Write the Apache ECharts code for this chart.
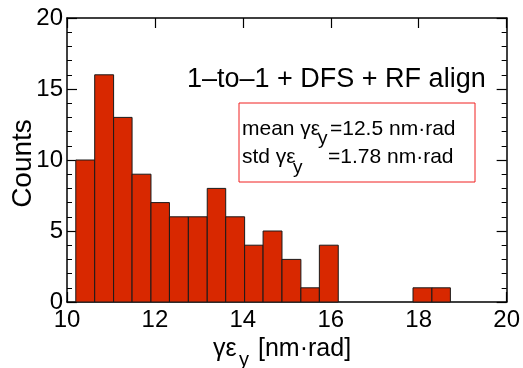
<!DOCTYPE html>
<html>
<head>
<meta charset="utf-8">
<script src="https://cdn.jsdelivr.net/npm/echarts@6/dist/echarts.min.js"></script>
<style>html,body{margin:0;padding:0;background:#fff}#c{width:523px;height:368px}</style>
</head>
<body>
<div id="c"></div>
<script>
// Histogram bin edges (nm·rad)
var binEdges = [10.20, 10.63, 11.06, 11.48, 11.91, 12.33, 12.76, 13.19, 13.61, 14.04,
                14.46, 14.89, 15.32, 15.74, 16.17, 16.59, 17.02, 17.44, 17.87, 18.30, 18.72];
// Counts per bin
var counts = [10, 16, 13, 9, 7, 6, 6, 8, 6, 4, 5, 3, 1, 4, 0, 0, 0, 0, 1, 1];
var xTicks = [10, 12, 14, 16, 18, 20];
var yTicks = [0, 5, 10, 15, 20];
var titleText = '1\u2013to\u20131 + DFS + RF align';
var meanLabel = 'mean \u03b3\u03b5';
var stdLabel = 'std \u03b3\u03b5';
var subY = 'y';
var meanText = '=12.5 nm\u00b7rad';
var stdText = '=1.78 nm\u00b7rad';
var xNameMain = '\u03b3\u03b5';
var xNameUnit = '[nm\u00b7rad]';
var yName = 'Counts';

var FONT = 'Liberation Sans, Arial, Helvetica, sans-serif';
var data = counts.map(function (c, i) { return [binEdges[i], binEdges[i + 1], c]; });

var chart = echarts.init(document.getElementById('c'), null, {renderer: 'canvas'});

var axisCommon = {
  type: 'value',
  axisLine: {show: true, onZero: false, lineStyle: {color: '#000', width: 1.5}},
  axisTick: {show: true, inside: true, length: 10, lineStyle: {color: '#000', width: 1.2}},
  splitLine: {show: false}
};

function txt(x, y, s, fs, z) {
  return {
    type: 'text', x: x, y: y, z: z || 11,
    style: {text: s, fontSize: fs, fontFamily: FONT, fill: '#000', verticalAlign: 'middle'}
  };
}

chart.setOption({
  animation: false,
  backgroundColor: '#fff',
  grid: {left: 67, right: 16, top: 18, bottom: 66, containLabel: false},
  xAxis: [
    Object.assign({}, axisCommon, {
      position: 'bottom', min: xTicks[0], max: xTicks[xTicks.length - 1], interval: 2,
      axisLabel: {show: true, color: '#000', fontSize: 24, fontFamily: FONT, margin: 6}
    }),
    Object.assign({}, axisCommon, {
      position: 'top', min: xTicks[0], max: xTicks[xTicks.length - 1], interval: 2,
      axisLabel: {show: false}
    })
  ],
  yAxis: [
    Object.assign({}, axisCommon, {
      position: 'left', min: yTicks[0], max: yTicks[yTicks.length - 1], interval: 5,
      axisLabel: {show: true, color: '#000', fontSize: 24, fontFamily: FONT, margin: 4},
      minorTick: {show: true, splitNumber: 5, length: 5, lineStyle: {color: '#000', width: 1}}
    }),
    Object.assign({}, axisCommon, {
      position: 'right', min: yTicks[0], max: yTicks[yTicks.length - 1], interval: 5,
      axisLabel: {show: false},
      minorTick: {show: true, splitNumber: 5, length: 5, lineStyle: {color: '#000', width: 1}}
    })
  ],
  series: [{
    type: 'custom',
    xAxisIndex: 0, yAxisIndex: 0,
    data: data,
    encode: {x: [0, 1], y: 2},
    renderItem: function (params, api) {
      var c = api.value(2);
      if (!c) return null;
      var p0 = api.coord([api.value(0), 0]);
      var p1 = api.coord([api.value(1), c]);
      return {
        type: 'rect',
        shape: {x: p0[0], y: p1[1], width: p1[0] - p0[0], height: p0[1] - p1[1]},
        style: {fill: '#D82800', stroke: '#1a1a1a', lineWidth: 1}
      };
    }
  }],
  graphic: [
    txt(187, 80, titleText, 27, 10),
    {
      type: 'rect', z: 10,
      shape: {x: 239, y: 103, width: 236, height: 79},
      style: {fill: '#fff', stroke: '#f02020', lineWidth: 1}
    },
    txt(242, 129.6, meanLabel, 21),
    txt(318, 139, subY, 19),
    txt(330, 129.6, meanText, 21),
    txt(242, 157.6, stdLabel, 21),
    txt(293, 168, subY, 19),
    txt(328, 157.6, stdText, 21),
    txt(213, 348.8, xNameMain, 25, 10),
    txt(239, 360.5, subY, 20, 10),
    txt(258, 348.8, xNameUnit, 25, 10),
    {
      type: 'text', x: 23, y: 163.5, rotation: Math.PI / 2, z: 10,
      style: {text: yName, fontSize: 28, fontFamily: FONT, fill: '#000', align: 'center', verticalAlign: 'middle'}
    }
  ]
});
</script>
</body>
</html>
